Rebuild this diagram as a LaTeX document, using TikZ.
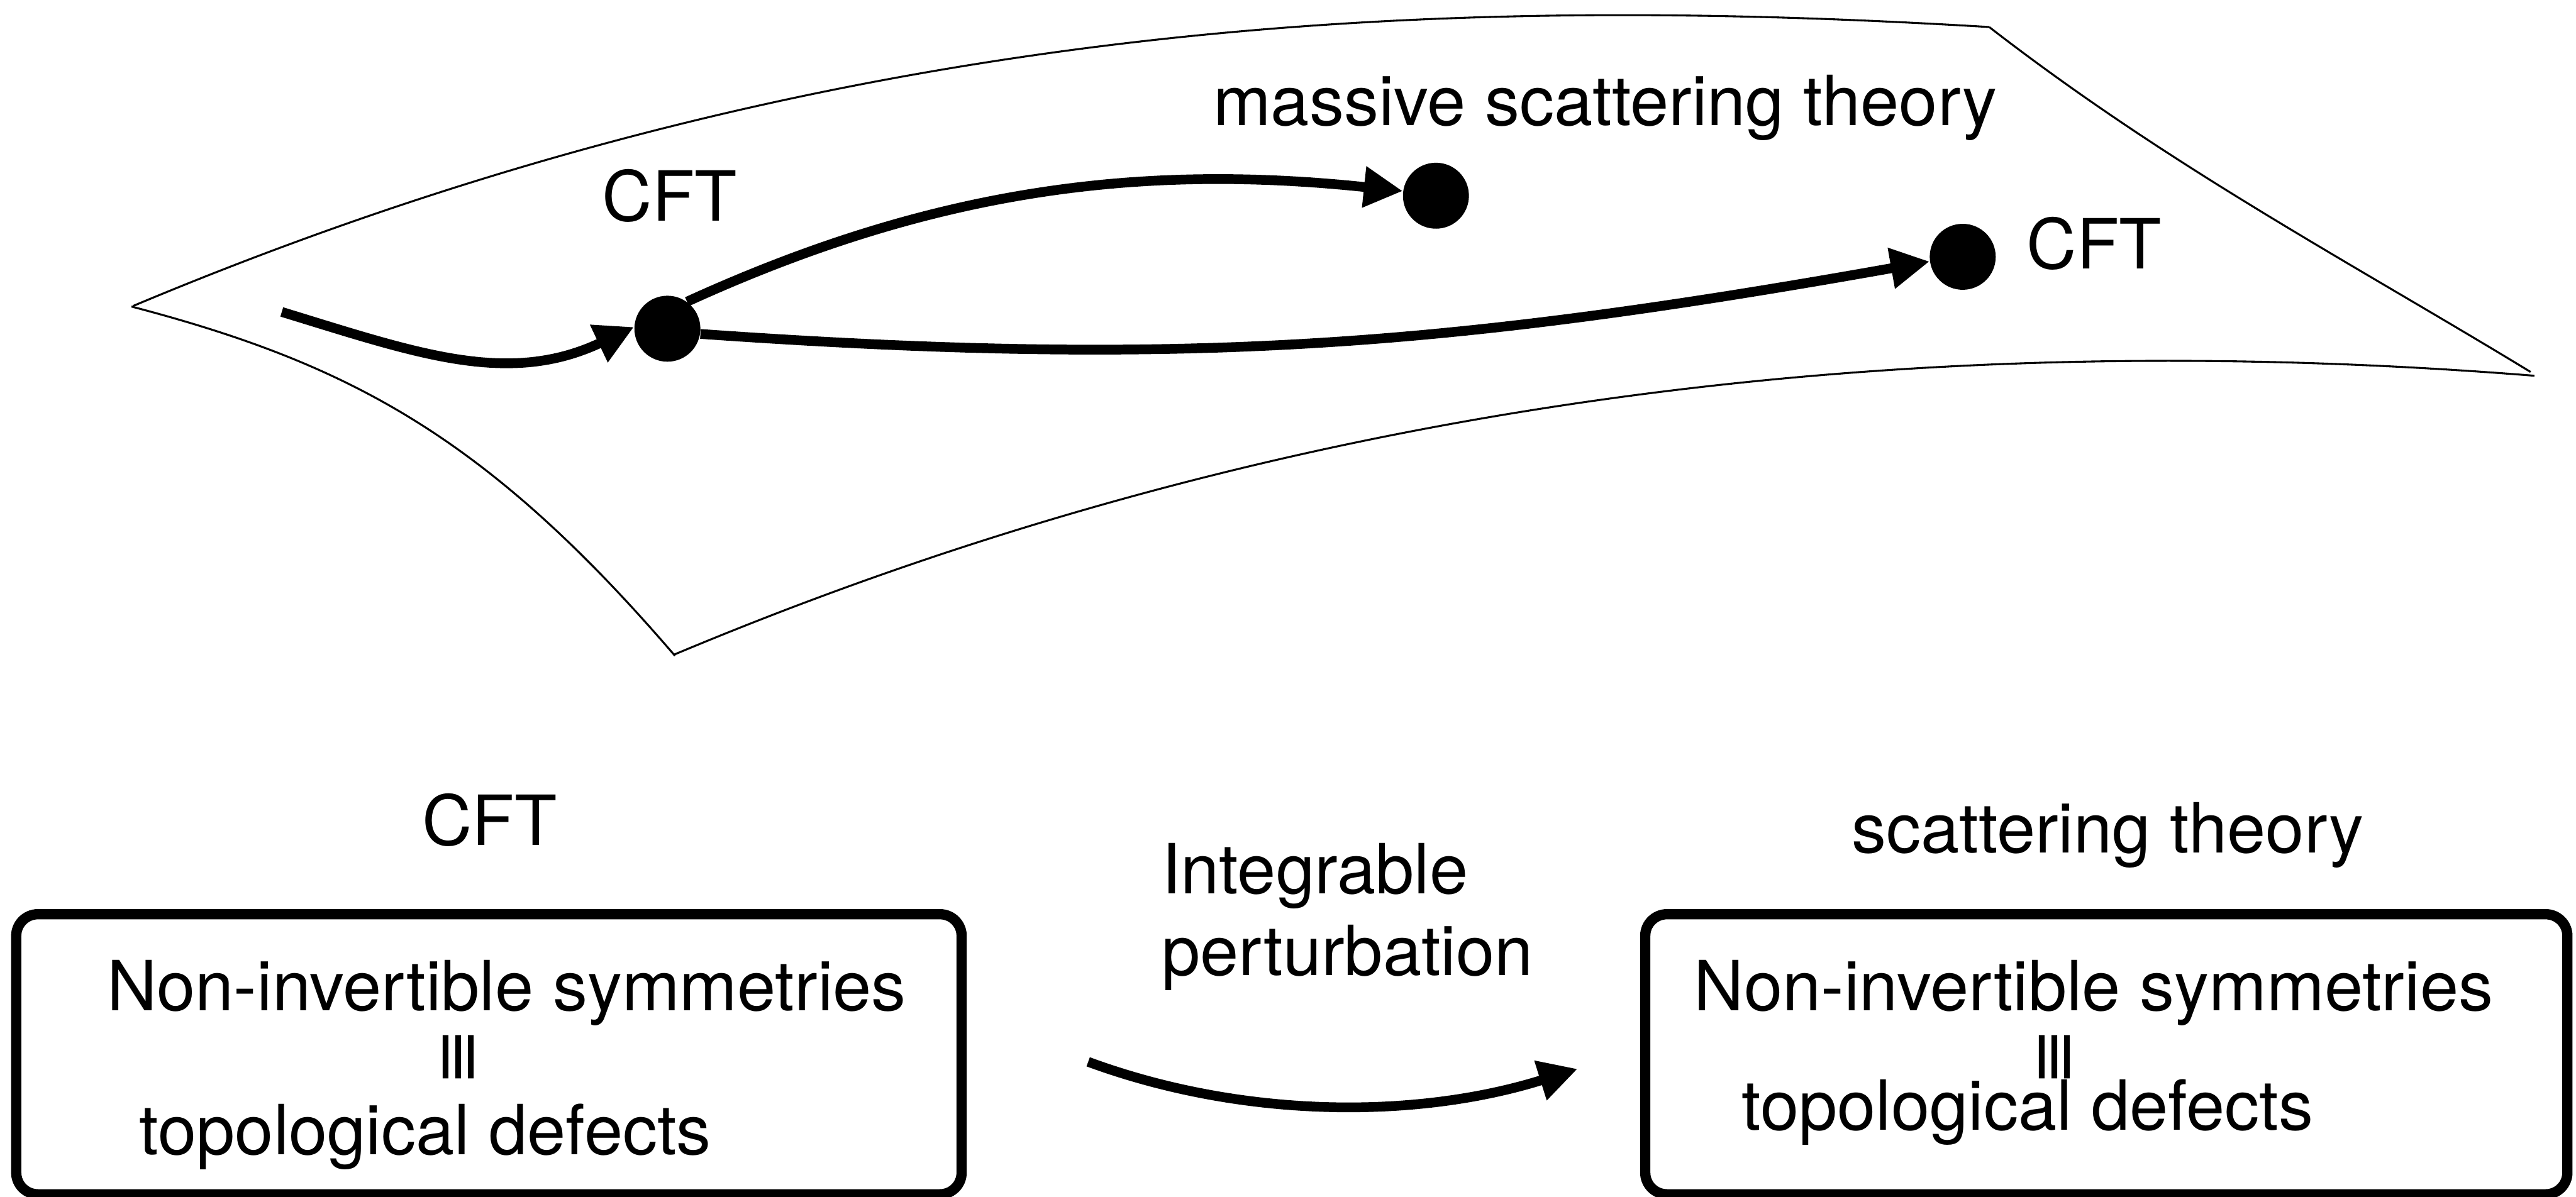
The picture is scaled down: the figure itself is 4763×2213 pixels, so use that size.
\documentclass[tikz,border=0pt]{standalone}
\usepackage{fontspec}
\setmainfont{TeX Gyre Heros}
\newfontfamily\symfont{DejaVu Sans}
\usetikzlibrary{arrows.meta}

\begin{document}
\begin{tikzpicture}[x=0.25pt, y=-0.25pt,
  txt/.style={font=\fontsize{32pt}{37.75pt}\selectfont, inner sep=0pt, anchor=base},
  dot/.style={circle, fill=black, inner sep=0pt, minimum size=30.5pt},
  sheet/.style={line width=0.9pt},
  flow/.style={line width=4.5pt, -{Triangle[length=18pt, width=18pt]}},
  panel/.style={draw, line width=4.75pt, rounded corners=10pt, inner sep=0pt},
  equiv/.style={font=\symfont\fontsize{32pt}{32pt}\selectfont, inner sep=0pt, rotate=90},
]
\useasboundingbox (0,0) rectangle (4763,2213);
\clip (0,0) rectangle (4763,2213);

% the theory space sheet
\draw[sheet] (246,566) .. controls (1546,20) and (2678,-10) .. (3678,50);
\draw[sheet] (3678,50) .. controls (4015,311) and (4349,487) .. (4679,688);
\draw[sheet] (1246,1211) .. controls (2260,785) and (3390,591) .. (4686,695);
\draw[sheet] (243,567) .. controls (643,672) and (898,805) .. (1248,1213);

% fixed points and flows
\node[dot] (cftA) at (1234,608) {};
\node[dot] (mst) at (2655,362) {};
\node[dot] (cftB) at (3629,475) {};
\coordinate (flowin) at (521,577);

\draw[flow] (flowin) .. controls (770,653) and (939,715) .. (cftA.177);
\draw[flow] (cftA.54) .. controls (1717,354) and (2098,301) .. (mst.172);
\draw[flow] (cftA.351) .. controls (2193,681) and (2682,641) .. (cftB.188);

\node[txt] (lblA) at (1238,409) {CFT};
\node[txt] (lblM) at (2968,232) {massive scattering theory};
\node[txt] (lblB) at (3872,497) {CFT};

% lower row
\node[txt] (hdA) at (905,1563) {CFT};
\node[txt] (hdB) at (3897,1577) {scattering theory};
\node[txt, anchor=base west] (pertA) at (2147,1653) {Integrable};
\node[txt, anchor=base west] (pertB) at (2147,1804) {perturbation};

\node[panel, minimum width=437pt, minimum height=129.5pt] (boxA) at (904,1950) {};
\node[panel, minimum width=426.25pt, minimum height=129.5pt] (boxB) at (3894.5,1950) {};

\node[txt] (symA) at (936.5,1869) {Non-invertible symmetries};
\node[equiv] (eqA) at (853,1955) {≡};
\node[txt] (defA) at (786.5,2136) {topological defects};

\node[txt] (symB) at (3871,1869) {Non-invertible symmetries};
\node[equiv] (eqB) at (3805,1955) {≡};
\node[txt] (defB) at (3749,2090) {topological defects};

\coordinate (pstart) at (2012,1964);
\coordinate (pend) at (2917,1977);
\draw[flow] (pstart) .. controls (2300,2070) and (2620,2070) .. (pend);
\end{tikzpicture}
\end{document}
